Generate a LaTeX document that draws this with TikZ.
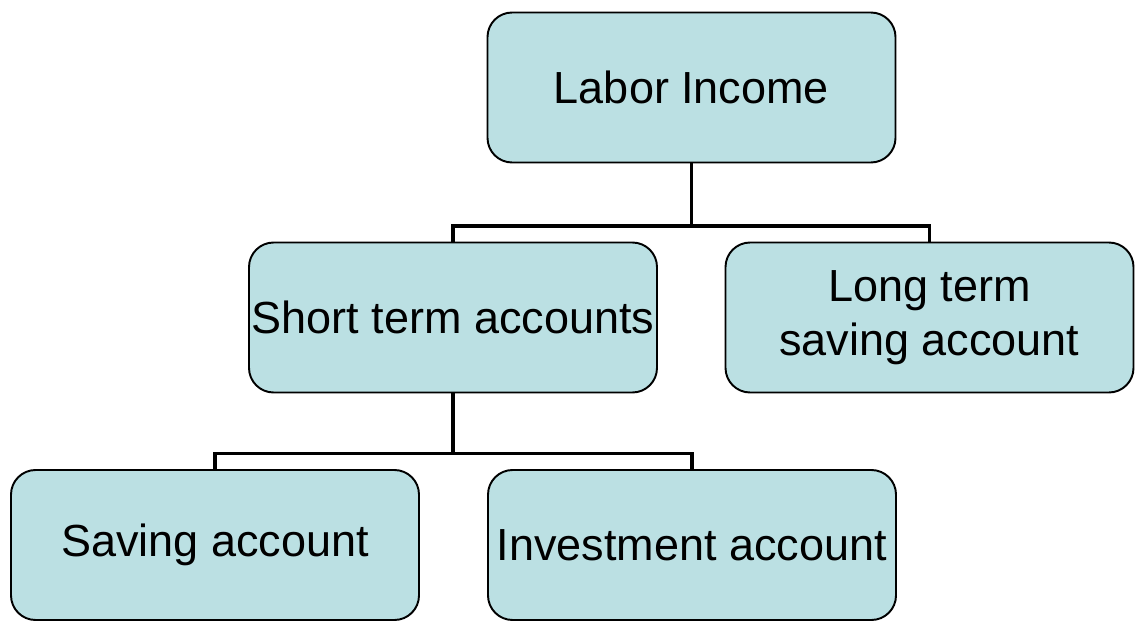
\documentclass[tikz,border=0pt]{standalone}
\usepackage{fontspec}
\setmainfont{Liberation Sans}
\definecolor{boxblue}{RGB}{187,224,227}

\begin{document}
\begin{tikzpicture}
        \tikzstyle{account}=[rounded corners=14pt,draw=black,line width=1.1pt,fill=boxblue,inner xsep=0pt,minimum width=8.16cm,minimum height=3cm,align=center,font=\fontsize{25.6}{31}\selectfont]
        \tikzstyle{link}=[line width=2pt]
        \useasboundingbox (0,0) rectangle (22.7,-12.48);
        \node[account] (labor) at (13.83,-1.75) {Labor Income};
        \node[account] (short) at (9.06,-6.35) {Short term accounts};
        \node[account] (long) at (18.59,-6.35) {Long term\\saving account};
        \node[account] (saving) at (4.3,-10.9) {Saving account};
        \node[account] (invest) at (13.84,-10.9) {Investment account};
        \draw[link] (labor.south) -- ++(0,-1.25) -| (short.north);
        \draw[link] (labor.south) -- ++(0,-1.25) -| (long.north);
        \draw[link] (short.south) -- ++(0,-1.2) -| (saving.north);
        \draw[link] (short.south) -- ++(0,-1.2) -| (invest.north);
    \end{tikzpicture}
\end{document}
